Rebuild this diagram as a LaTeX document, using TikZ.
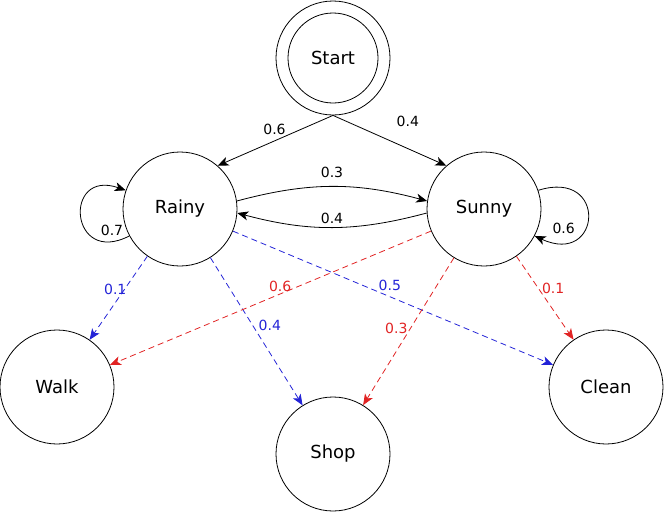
\documentclass[tikz,border=0pt]{standalone}
\usepackage{fontspec}
\setmainfont{DejaVu Sans}
\usetikzlibrary{arrows.meta}

\definecolor{rainblue}{RGB}{35,35,215}
\definecolor{sunred}{RGB}{225,35,35}

\begin{document}
\begin{tikzpicture}[x=1pt, y=1pt,
    state/.style={circle, draw, line width=0.8pt, minimum size=114pt, inner sep=0pt, font=\fontsize{18}{22}\selectfont},
    trans/.style={line width=0.8pt, -{Stealth[length=11pt, width=9pt, inset=3pt]}},
    emit/.style={trans, dash pattern=on 6pt off 4pt},
    lbl/.style={font=\fontsize{14}{16}\selectfont, inner sep=0pt}]
    \useasboundingbox (0, 0) rectangle (664, -512);
    % hidden states
    \node[state] (start) at (333, -58) {Start};
    \draw[line width=0.8pt] (start.center) circle[radius=45pt];
    \node[state] (rainy) at (180, -209) {Rainy};
    \node[state] (sunny) at (484, -209) {Sunny};
    % observations
    \node[state] (walk) at (57, -387) {Walk};
    \node[state] (shop) at (333, -454) {Shop};
    \node[state] (clean) at (606, -387) {Clean};
    % transitions
    \draw[trans] (start.south) -- (rainy.49) node[lbl, pos=.52, xshift=1.5pt, yshift=12pt] {0.6};
    \draw[trans] (start.south) -- (sunny.131) node[lbl, pos=.66, yshift=27pt] {0.4};
    \draw[trans] (rainy.8) to[out=15, in=165] node[lbl, pos=.5, yshift=14pt] {0.3} (sunny.172);
    \draw[trans] (sunny.184) to[out=195, in=-15] node[lbl, pos=.5, yshift=9pt] {0.4} (rainy.356);
    \draw[trans] (rainy.208) .. controls +(-60, -31) and +(-63, 22) .. (rainy.161) node[lbl, pos=.15, xshift=6pt, yshift=12pt] {0.7};
    \draw[trans] (sunny.19) .. controls +(70, 22) and +(67, -31) .. (sunny.-28) node[lbl, pos=.85, xshift=3pt, yshift=14pt] {0.6};
    % emissions
    \draw[emit, rainblue] (rainy) -- (walk) node[lbl, pos=.4, xshift=-9pt] {0.1};
    \draw[emit, rainblue] (rainy) -- (shop) node[lbl, pos=.46, xshift=17pt] {0.4};
    \draw[emit, rainblue] (rainy) -- (clean) node[lbl, pos=.49, yshift=11pt] {0.5};
    \draw[emit, sunred] (sunny) -- (walk) node[lbl, pos=.47, yshift=8pt] {0.6};
    \draw[emit, sunred] (sunny) -- (shop) node[lbl, pos=.48, xshift=-14pt] {0.3};
    \draw[emit, sunred] (sunny) -- (clean) node[lbl, pos=.38, xshift=15pt] {0.1};
\end{tikzpicture}
\end{document}
